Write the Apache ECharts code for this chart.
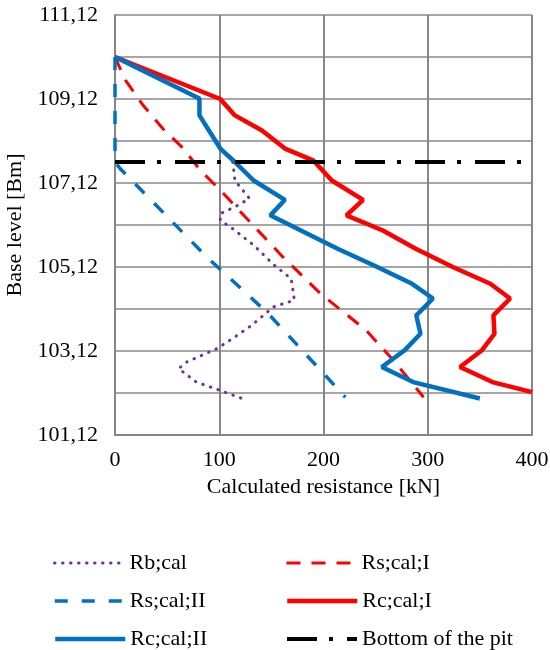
<!DOCTYPE html>
<html>
<head>
<meta charset="utf-8">
<script src="https://cdn.jsdelivr.net/npm/echarts@6/dist/echarts.min.js"></script>
<style>html,body{margin:0;padding:0;background:#fff}#c{width:550px;height:650px}</style>
</head>
<body>
<div id="c"></div>
<script>
// Base level reference (bottom of y axis)
const BASE = 101.12;
const xTicks = [0, 100, 200, 300, 400];

// [resistance kN, base level m]
const rbCal = [[113,107.62],[115,107.18],[129,106.75],[115,106.55],[101,106.39],[101,106.23],[113,106.03],[133,105.64],[153,105.16],[169,104.84],[171,104.52],[172,104.33],[152,104.17],[131,103.73],[113,103.42],[98,103.18],[69,102.86],[61,102.70],[78,102.38],[101,102.18],[125,101.96]];
const rsCalI = [[0,110.12],[10,109.57],[27,108.97],[46,108.41],[64,107.98],[82,107.42],[101,106.95],[125,106.31],[161,105.36],[197,104.49],[241,103.61],[267,102.90],[296,102.02]];
const rsCalII = [[0,110.12],[0,107.62],[5,107.46],[88,105.36],[147,104.01],[221,102.02]];
const rcCalI = [[0,110.12],[101,109.12],[115,108.73],[141,108.37],[163,107.94],[190,107.66],[208,107.18],[238,106.72],[222,106.35],[257,105.99],[288,105.56],[324,105.12],[360,104.72],[379,104.37],[363,103.97],[364,103.53],[352,103.14],[331,102.74],[362,102.38],[400,102.14]];
const rcCalII = [[0,110.12],[81,109.13],[81,108.73],[101,107.94],[115,107.62],[133,107.18],[163,106.72],[149,106.35],[213,105.56],[248,105.16],[285,104.72],[305,104.37],[289,103.97],[293,103.53],[278,103.14],[256,102.74],[286,102.38],[350,101.99]];
const pitLevel = 107.62;
const pit = [[0,pitLevel],[400,pitLevel]];

const toXY = arr => arr.map(p => [p[0], +(p[1]-BASE).toFixed(4)]);
const FONT = 'Liberation Serif';
const txt = {fontFamily: FONT, fontSize: 22, color: '#000'};

// legend layout: [name, left, top]
const legendPos = [
  ['Rb;cal', 48, 547], ['Rs;cal;I', 280, 547],
  ['Rs;cal;II', 48, 585], ['Rc;cal;I', 280, 585],
  ['Rc;cal;II', 48, 623], ['Bottom of the pit', 280, 623]
];

const chart = echarts.init(document.getElementById('c'));
chart.setOption({
  animation: false,
  grid: {left: 115, right: 18, top: 15, bottom: 215, outerBoundsMode: 'none', containLabel: false},
  xAxis: {
    type: 'value', min: 0, max: 400, interval: 100,
    name: 'Calculated resistance [kN]', nameLocation: 'middle', nameGap: 37,
    nameTextStyle: txt,
    axisLabel: Object.assign({margin: 14}, txt),
    axisLine: {lineStyle: {color: '#868686', width: 2}},
    axisTick: {show: false},
    splitLine: {lineStyle: {color: '#868686', width: 2}}
  },
  yAxis: {
    type: 'value', min: 0, max: 10, interval: 1,
    name: 'Base level [Bm]', nameLocation: 'middle', nameGap: 80, nameRotate: 90,
    nameTextStyle: txt,
    axisLabel: Object.assign({margin: 17, formatter: v => (Math.round(v) % 2 === 0) ? (v + BASE).toFixed(2).replace('.', ',') : ''}, txt),
    axisLine: {show: true, lineStyle: {color: '#868686', width: 2}},
    axisTick: {show: false},
    splitLine: {lineStyle: {color: '#A6A6A6', width: 2}}
  },
  legend: legendPos.map(([n, l, t]) => ({
    left: l, top: t, itemWidth: 70, itemHeight: 14, itemGap: 6,
    textStyle: txt, itemStyle: {opacity: 0}, lineStyle: {width: 'inherit'}, data: [n]
  })),
  series: [
    {name: 'Rb;cal', type: 'line', data: toXY(rbCal), symbol: 'none', silent: true,
     lineStyle: {color: '#7030A0', width: 3, type: [0.5, 7.5], cap: 'round'}, itemStyle: {color: '#7030A0'}},
    {name: 'Rs;cal;I', type: 'line', data: toXY(rsCalI), symbol: 'none', silent: true,
     lineStyle: {color: '#FF0000', width: 3, type: [14, 11]}, itemStyle: {color: '#FF0000'}},
    {name: 'Rs;cal;II', type: 'line', data: toXY(rsCalII), symbol: 'none', silent: true,
     lineStyle: {color: '#0070C0', width: 3.5, type: [13, 14]}, itemStyle: {color: '#0070C0'}},
    {name: 'Rc;cal;I', type: 'line', data: toXY(rcCalI), symbol: 'none', silent: true,
     lineStyle: {color: '#FF0000', width: 4.5}, itemStyle: {color: '#FF0000'}},
    {name: 'Rc;cal;II', type: 'line', data: toXY(rcCalII), symbol: 'none', silent: true,
     lineStyle: {color: '#0070C0', width: 4.5}, itemStyle: {color: '#0070C0'}},
    {name: 'Bottom of the pit', type: 'line', data: toXY(pit), symbol: 'none', silent: true,
     lineStyle: {color: '#000', width: 4, type: [30, 12, 4, 14]}, itemStyle: {color: '#000'}}
  ]
});
</script>
</body>
</html>
